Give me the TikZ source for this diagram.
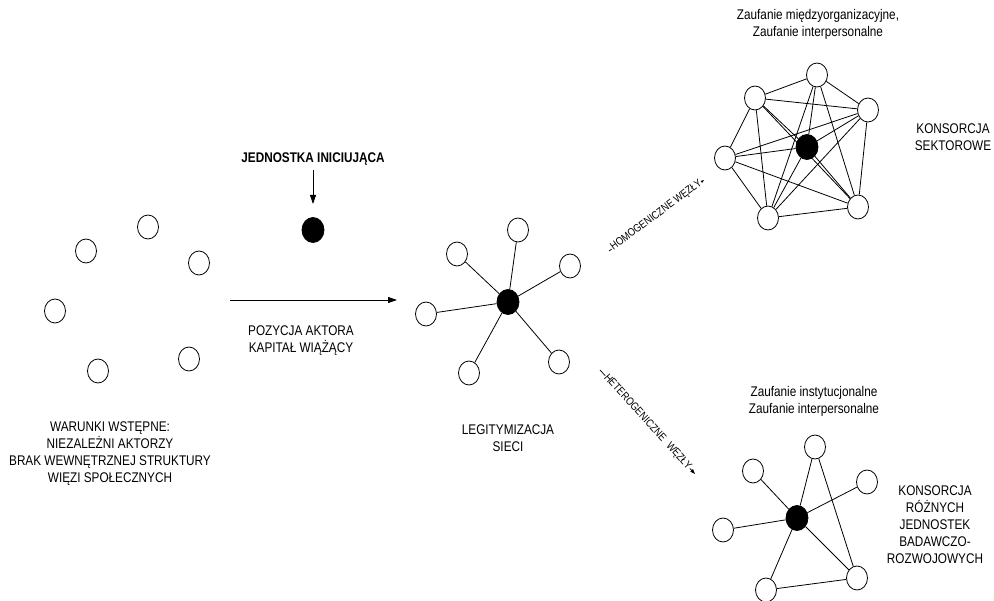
\documentclass[tikz,border=0pt]{standalone}
\usepackage{fontspec}
\setmainfont{Liberation Sans}[FakeStretch=0.84]
\usetikzlibrary{shapes.geometric,arrows.meta}
\tikzset{
  wc/.style={ellipse, draw, line width=0.8pt, fill=white, minimum width=21pt, minimum height=24pt, inner sep=0pt},
  bc/.style={ellipse, draw, line width=0.8pt, fill=black, minimum width=22pt, minimum height=25pt, inner sep=0pt},
  ed/.style={line width=0.8pt},
  arr/.style={line width=0.8pt, -{Triangle[length=9pt,width=6pt]}},
  sarr/.style={line width=0.7pt, -{Triangle[length=5pt,width=3.5pt]}},
  lbl/.style={font=\fontsize{14}{17}\selectfont, align=center, inner sep=0pt},
  dlbl/.style={font=\fontsize{11}{11}\selectfont, fill=white, inner sep=0.5pt},
}
\begin{document}
\begin{tikzpicture}[x=1pt,y=-1pt]
\useasboundingbox (0,0) rectangle (994,601);
% left scattered actors
\node[wc] (l1) at (148,227) {};
\node[wc] (l2) at (86,251) {};
\node[wc] (l3) at (199,263) {};
\node[wc] (l4) at (55,311) {};
\node[wc] (l5) at (189,359) {};
\node[wc] (l6) at (98,371) {};
\node[lbl] (warunki) at (110,454) {WARUNKI WSTĘPNE:\\NIEZALEŻNI AKTORZY\\BRAK WEWNĘTRZNEJ STRUKTURY\\WIĘZI SPOŁECZNYCH};
% initiating unit
\node[lbl, font=\fontsize{14}{17}\selectfont\bfseries] (jedn) at (313,159) {JEDNOSTKA INICIUJĄCA};
\node[bc] (init) at (313,230) {};
\coordinate (jt) at (313,170);
\coordinate (jb) at (313,204);
\draw[arr] (jt) -- (jb);
% main arrow
\coordinate (ma) at (230,300);
\coordinate (mb) at (397,300);
\draw[arr] (ma) -- (mb);
\node[lbl] (poz) at (301,341) {POZYCJA AKTORA\\KAPITAŁ WIĄŻĄCY};
% middle star
\node[bc] (mc) at (508,302) {};
\node[wc] (m1) at (518,230) {};
\node[wc] (m2) at (457,254) {};
\node[wc] (m3) at (570,266) {};
\node[wc] (m4) at (426,314) {};
\node[wc] (m5) at (559,362) {};
\node[wc] (m6) at (469,373) {};
\foreach \n in {m1,m2,m3,m4,m5,m6} \draw[ed] (mc) -- (\n);
\node[lbl] (leg) at (508,438) {LEGITYMIZACJA\\SIECI};
% diagonal arrows
\coordinate (ha) at (609,251);
\coordinate (hb) at (704,180);
\draw[sarr] (ha) -- (hb) node[dlbl, pos=0.5, sloped] {HOMOGENICZNE WĘZŁY};
\coordinate (ea) at (600,370);
\coordinate (eb) at (695,474);
\draw[sarr] (ea) -- (eb) node[dlbl, pos=0.5, sloped] {HETEROGENICZNE\hspace{6pt}WĘZŁY};
% top-right network
\node[lbl] (zt) at (818,24) {Zaufanie międzyorganizacyjne,\\Zaufanie interpersonalne};
\node[wc] (t1) at (817,75) {};
\node[wc] (t2) at (755,98) {};
\node[wc] (t3) at (868,110) {};
\node[wc] (t4) at (725,158) {};
\node[bc] (tc) at (807,147) {};
\node[wc] (t5) at (858,207) {};
\node[wc] (t6) at (768,218) {};
\foreach \a/\b in {t1/t2,t1/t3,t2/t3,t2/t4,t2/t6,t2/tc,t2/t5,t1/t6,t1/tc,t1/t5,t3/t5,t4/t3,t4/tc,tc/t3,t4/t6,t4/t5,t6/t5,t6/t3,t6/tc,tc/t5}
  \draw[ed] (\a) -- (\b);
\node[lbl] (ks) at (953,137) {KONSORCJA\\SEKTOROWE};
% bottom-right network
\node[lbl] (zb) at (814,401) {Zaufanie instytucjonalne\\Zaufanie interpersonalne};
\node[bc] (bcn) at (797,518) {};
\node[wc] (b1) at (815,447) {};
\node[wc] (b2) at (753,471) {};
\node[wc] (b3) at (867,482) {};
\node[wc] (b4) at (723,530) {};
\node[wc] (b5) at (857,578) {};
\node[wc] (b6) at (766,590) {};
\foreach \n in {b1,b2,b3,b4,b5,b6} \draw[ed] (bcn) -- (\n);
\draw[ed] (b1) -- (b5);
\draw[ed] (b6) -- (b5);
\node[lbl] (kr) at (935,525) {KONSORCJA\\RÓŻNYCH\\JEDNOSTEK\\BADAWCZO-\\ROZWOJOWYCH};
\end{tikzpicture}
\end{document}
